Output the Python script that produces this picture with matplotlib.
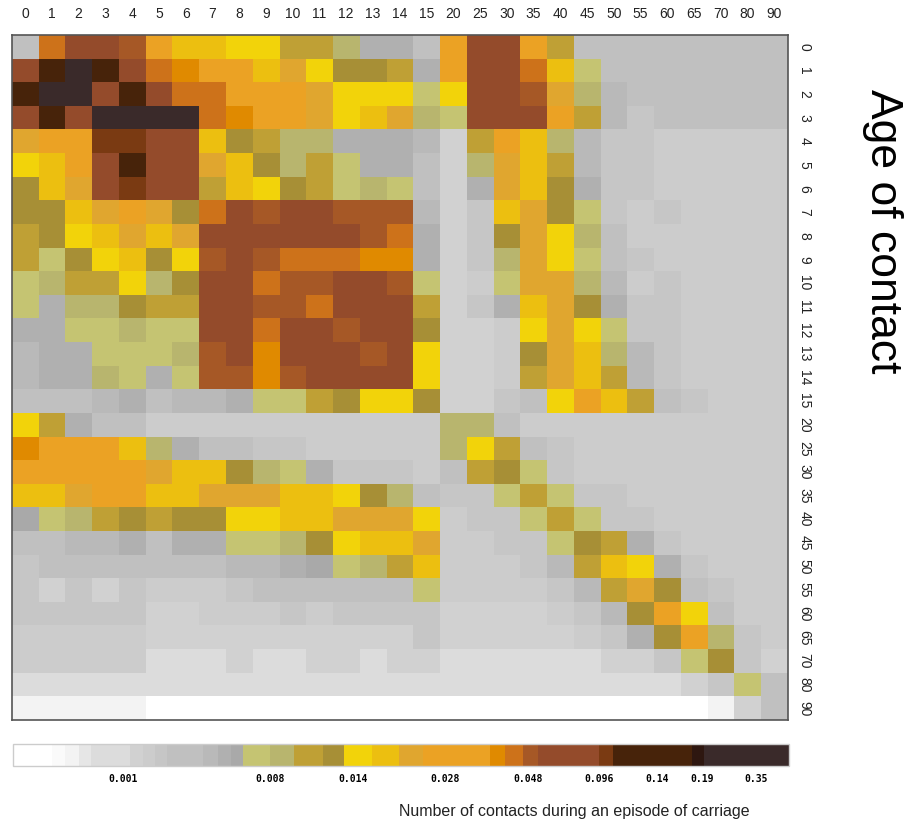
import matplotlib
matplotlib.use('Agg')
import matplotlib.pyplot as plt
import numpy as np
from matplotlib.colors import ListedColormap, BoundaryNorm
from matplotlib.cm import ScalarMappable

plt.rcParams['font.family'] = ['Liberation Sans', 'DejaVu Sans']

ages = ['0', '1', '2', '3', '4', '5', '6', '7', '8', '9', '10', '11', '12', '13', '14',
        '15', '20', '25', '30', '35', '40', '45', '50', '55', '60', '65', '70', '80', '90']

# discrete colour classes, from fewest to most contacts
level_colors = ['#ffffff', '#fafafa', '#f3f3f3', '#e6e6e6', '#dcdcdc', '#d1d1d1', '#cccccc',
                '#c6c6c6', '#c0c0c0', '#b9b9b9', '#b0b0b0', '#a9a9a9', '#c5c472', '#b8b56e',
                '#bfa035', '#a78f36', '#f2d30a', '#ecbf10', '#e0a62f', '#eba224', '#e08a00',
                '#cd721a', '#a65826', '#944b2b', '#7a3a12', '#47230a', '#2e1710', '#3a2a2a']
codes = "0123456789abcdefghijklmnopqr"

# class of each cell: one row per age of contact, one character per age column
grid_rows = [
    "8lnnmjhhgg" "eedaa8jnnj" "e88888888",
    "nprpnlkjjh" "igffeajnnl" "hc8888888",
    "prrnpnlljj" "jigggcgnnm" "id9888888",
    "npnrrrrlkj" "jighidcnnn" "je9788888",
    "ijjoonnhfe" "ddaaa95ejh" "d97766666",
    "ghjnpnnihf" "decaa85dih" "e97766666",
    "fhinonnehg" "fecdc85aih" "fa7766666",
    "ffhijiflnm" "nnmmm957hi" "fc7676666",
    "efghihinnn" "nnnmla57fi" "gd8666666",
    "ecfghfgmnm" "lllkka57di" "gc8766666",
    "cdeegdfnnl" "mmnnmc56ci" "id9676666",
    "caddfeennm" "mlnnne57ah" "ifa776666",
    "aaccdccnnl" "nnmnnf556g" "igc776666",
    "9aacccdmnk" "nnnmng556f" "ihd976666",
    "9aadcacmmk" "mnnnng556e" "ihe976666",
    "8889a899ac" "cefggf5578" "gjhe87666",
    "gea8866666" "666666dd86" "666666666",
    "kjjjhda887" "766666dge8" "766666666",
    "jjjjjihhfd" "ca77768efc" "766666666",
    "hhijjhhiii" "hhgfd877ce" "c77666666",
    "bcdefeffgg" "hhiiig677c" "ec7766666",
    "8899a8aacc" "dfghhi6677" "cfea76666",
    "7888888899" "abcdeh6667" "9ehga7666",
    "7575766678" "88888c6666" "79eif8766",
    "7777755666" "7677775555" "679fjg866",
    "6666655555" "5555575555" "567afjd76",
    "6666644454" "4554554444" "44557cf75",
    "4444444444" "4444444444" "4444457c8",
    "2222200000" "0000000000" "000000258",
]

# colour-key class edges (key units) and its labels
cbar_edges = [13, 52, 65, 79, 91, 130, 143, 155, 167, 203, 218, 231, 243, 270, 294, 323,
              344, 372, 399, 423, 490, 505, 523, 538, 599, 613, 692, 704, 789]
cbar_ticks = [123, 270, 353, 445, 528, 599, 657, 702, 756]
cbar_labels = ['0.001', '0.008', '0.014', '0.028', '0.048', '0.096', '0.14', '0.19', '0.35']

matrix = np.array([[codes.index(ch) for ch in row] for row in grid_rows])
cmap = ListedColormap(level_colors)
n = len(level_colors)

W, H = 908, 821
fig = plt.figure(figsize=(W / 100, H / 100), dpi=100)

ax = fig.add_axes([11.7 / W, 1 - 720 / H, 776 / W, 685 / H])
ax.imshow(matrix, cmap=cmap, norm=BoundaryNorm(np.arange(n + 1) - 0.5, n),
          aspect='auto', interpolation='nearest')
ax.xaxis.tick_top()
ax.yaxis.tick_right()
ax.set_xticks(range(len(ages)))
ax.set_xticklabels(ages)
ax.set_yticks(range(len(ages)))
ax.set_yticklabels(ages, rotation=-90, va='center')
ax.tick_params(axis='x', length=0, labelsize=10, pad=10, colors='#222222')
ax.tick_params(axis='y', length=0, labelsize=10, pad=7, colors='#222222')
for s in ax.spines.values():
    s.set_color('#555555')
    s.set_linewidth(1.2)

fig.text(882 / W, 1 - 231 / H, 'Age of contact', rotation=-90, ha='center', va='center',
         fontsize=32)

cax = fig.add_axes([13 / W, 1 - 766 / H, 776 / W, 22 / H])
sm = ScalarMappable(norm=BoundaryNorm(cbar_edges, n), cmap=cmap)
cb = fig.colorbar(sm, cax=cax, orientation='horizontal', spacing='proportional',
                  ticks=cbar_ticks)
cb.set_ticklabels(cbar_labels)
cb.outline.set_edgecolor('#cccccc')
cb.outline.set_linewidth(1.0)
cax.minorticks_off()
cax.tick_params(which='both', length=0, pad=6)
for t in cax.get_xticklabels():
    t.set_family('DejaVu Sans Mono')
    t.set_fontweight('bold')
    t.set_fontsize(7)

fig.text(574 / W, 1 - 811 / H, 'Number of contacts during an episode of carriage',
         ha='center', va='center', fontsize=11.5, color='#222222')

fig.savefig('out.png', dpi=100)
